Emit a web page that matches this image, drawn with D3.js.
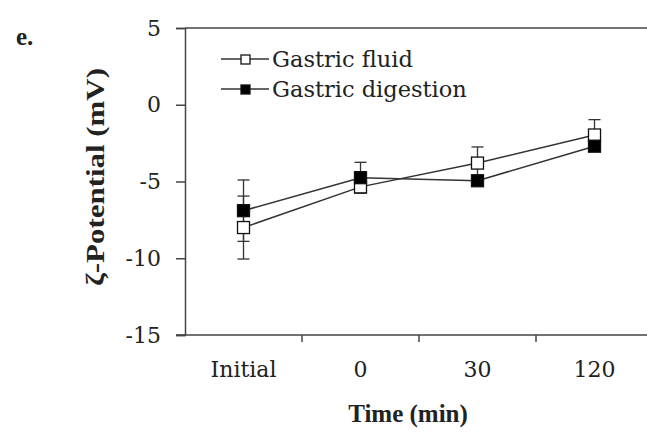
<!DOCTYPE html>
<html>
<head>
<meta charset="utf-8">
<script src="https://cdn.jsdelivr.net/npm/d3@7"></script>
<style>
  body { margin: 0; background: #fff; }
  svg { display: block; }
  svg text { font-family: "Liberation Serif", "DejaVu Serif", serif; fill: #222; }
  svg text.reg { font-family: "DejaVu Serif", serif; }
</style>
</head>
<body>
<svg id="chart" width="647" height="432"></svg>
<script>
// data
const categories = ["Initial", "0", "30", "120"];
const fluidValues = [-8.0, -5.35, -3.8, -1.97];
const fluidErr = [2.05, 0.4, 1.05, 1.0];
const digestValues = [-6.9, -4.75, -4.95, -2.7];
const digestErr = [2.0, 1.0, 0.3, 0.3];
const yTicks = [5, 0, -5, -10, -15];

const series = [
  { name: "Gastric fluid", values: fluidValues, err: fluidErr, fill: "#fff" },
  { name: "Gastric digestion", values: digestValues, err: digestErr, fill: "#000" }
];

const svg = d3.select("#chart");
const plot = { left: 185, right: 653, top: 28, bottom: 335 };
const ink = "#444";

const x = d3.scaleBand().domain(categories).range([plot.left, plot.right]);
const y = d3.scaleLinear().domain([-15, 5]).range([plot.bottom, plot.top]);
const cx = d => x(d) + x.bandwidth() / 2;

// top frame line
svg.append("line")
  .attr("x1", plot.left).attr("x2", 647).attr("y1", plot.top).attr("y2", plot.top)
  .attr("stroke", ink).attr("stroke-width", 1.5);

// y axis
const yAxis = svg.append("g")
  .attr("transform", `translate(${plot.left},0)`)
  .call(d3.axisLeft(y).tickValues(yTicks).tickSize(9).tickPadding(15).tickFormat(d => String(d)));
yAxis.attr("font-family", null);
yAxis.select(".domain").attr("stroke", ink).attr("stroke-width", 1.5);
yAxis.selectAll(".tick line").attr("stroke", ink).attr("stroke-width", 1.5);
yAxis.selectAll(".tick text").attr("class", "reg").style("font-size", "22px");

// x axis: ticks sit between categories
const xAxis = svg.append("g").attr("transform", `translate(0,${plot.bottom})`);
xAxis.append("line")
  .attr("x1", plot.left - 9).attr("x2", 647).attr("y1", 0).attr("y2", 0)
  .attr("stroke", ink).attr("stroke-width", 1.5);
xAxis.selectAll("line.sep")
  .data(categories.slice(1))
  .join("line")
  .attr("class", "sep")
  .attr("x1", d => x(d)).attr("x2", d => x(d))
  .attr("y1", 0).attr("y2", 7)
  .attr("stroke", ink).attr("stroke-width", 1.5);
xAxis.selectAll("text")
  .data(categories)
  .join("text")
  .attr("class", "reg")
  .attr("x", d => cx(d))
  .attr("y", 42)
  .attr("text-anchor", "middle")
  .style("font-size", "22px")
  .text(d => d);

// axis titles
svg.append("text")
  .attr("x", 408).attr("y", 422)
  .attr("text-anchor", "middle")
  .style("font-size", "25px").style("font-weight", "bold")
  .text("Time (min)");

svg.append("text")
  .attr("transform", "translate(104,177) rotate(-90)")
  .attr("text-anchor", "middle")
  .attr("textLength", 218).attr("lengthAdjust", "spacingAndGlyphs")
  .style("font-size", "25px").style("font-weight", "bold")
  .text("ζ-Potential  (mV)");

svg.append("text")
  .attr("x", 16).attr("y", 45)
  .style("font-size", "25px").style("font-weight", "bold")
  .text("e.");

const line = d3.line().x(d => cx(d.cat)).y(d => y(d.v));

series.forEach(s => {
  const pts = categories.map((c, i) => ({ cat: c, v: s.values[i], e: s.err[i] }));
  const g = svg.append("g");

  g.append("path")
    .datum(pts)
    .attr("d", line)
    .attr("fill", "none").attr("stroke", "#333").attr("stroke-width", 1.5);

  const eb = g.selectAll("g.err").data(pts).join("g").attr("class", "err");
  eb.append("line")
    .attr("x1", d => cx(d.cat)).attr("x2", d => cx(d.cat))
    .attr("y1", d => y(d.v + d.e)).attr("y2", d => y(d.v - d.e))
    .attr("stroke", "#333").attr("stroke-width", 1.3);
  [1, -1].forEach(sign => {
    eb.append("line")
      .attr("x1", d => cx(d.cat) - 6).attr("x2", d => cx(d.cat) + 6)
      .attr("y1", d => y(d.v + sign * d.e)).attr("y2", d => y(d.v + sign * d.e))
      .attr("stroke", "#333").attr("stroke-width", 1.3);
  });
});

// markers on top
series.forEach(s => {
  svg.append("g").selectAll("rect")
    .data(categories.map((c, i) => ({ cat: c, v: s.values[i] })))
    .join("rect")
    .attr("x", d => cx(d.cat) - 6).attr("y", d => y(d.v) - 6)
    .attr("width", 12).attr("height", 12)
    .attr("fill", s.fill).attr("stroke", "#111").attr("stroke-width", 1.3);
});

// legend
const legend = svg.append("g");
series.forEach((s, i) => {
  const ly = 59 + i * 30;
  legend.append("line")
    .attr("x1", 221).attr("x2", 269).attr("y1", ly).attr("y2", ly)
    .attr("stroke", "#333").attr("stroke-width", 1.5);
  legend.append("rect")
    .attr("x", 241).attr("y", ly - 4).attr("width", 9).attr("height", 9)
    .attr("fill", s.fill).attr("stroke", "#111").attr("stroke-width", 1.3);
  legend.append("text")
    .attr("class", "reg")
    .attr("x", 272).attr("y", ly + 8)
    .style("font-size", "22.5px")
    .text(s.name);
});
</script>
</body>
</html>
